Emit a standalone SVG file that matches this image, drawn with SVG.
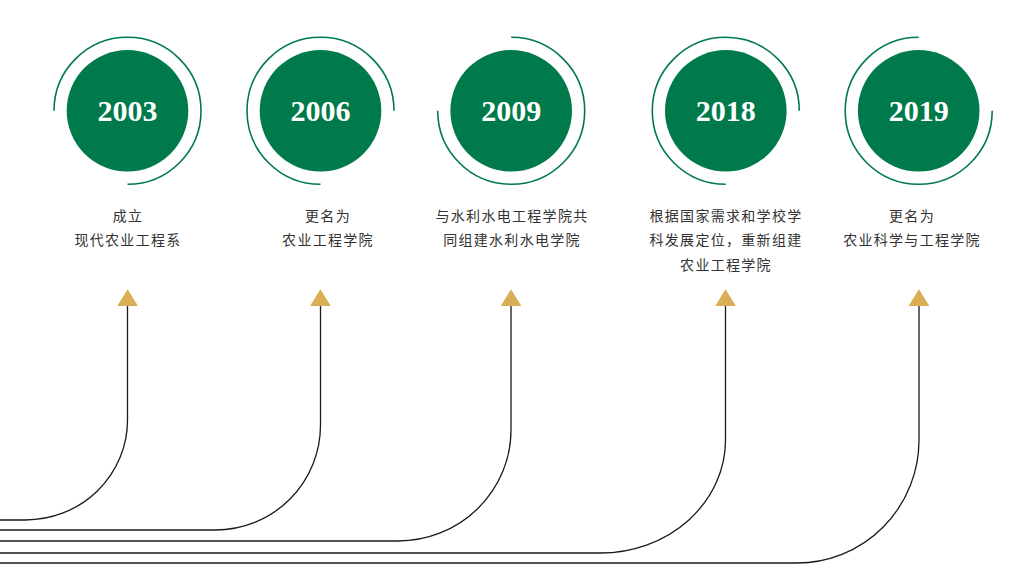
<svg xmlns="http://www.w3.org/2000/svg" width="1021" height="581" viewBox="0 0 1021 581">
<style>
.disc{fill:#017a4b}
.ring{fill:none;stroke:#017a4b;stroke-width:1.6}
.year{font-family:"Liberation Serif","Times New Roman",serif;font-weight:bold;font-size:30px;fill:#ffffff;text-anchor:middle}
.lbl{font-family:"Noto Sans CJK SC","Noto Sans",sans-serif;font-size:14px;fill:#333333;text-anchor:middle;letter-spacing:1.3px}
.tri{fill:#d9ae55}
.conn{fill:none;stroke:#1a1a1a;stroke-width:1.3}
</style>
<rect width="1021" height="581" fill="#ffffff"/>
<g id="connectors">
<path class="conn" d="M127.5,306 V420 A102,100 0 0 1 25.5,520 H0"/>
<path class="conn" d="M320.5,306 V425 A105,105 0 0 1 215.5,530 H0"/>
<path class="conn" d="M511,306 V430 A113,111 0 0 1 398,541 H0"/>
<path class="conn" d="M725.5,306 V440 A125,113 0 0 1 600.5,553 H0"/>
<path class="conn" d="M919,306 V440 A122,123 0 0 1 797,563 H0"/>
</g>
<g id="node-2003">
<circle class="disc" cx="127.5" cy="110.8" r="60.8"/>
<path class="ring" d="M54,110.8 A73.5,73.5 0 1 1 127.5,184.3"/>
<text class="year" x="127.5" y="121">2003</text>
<text class="lbl" x="128" y="220.5">成立</text>
<text class="lbl" x="128" y="245">现代农业工程系</text>
<polygon class="tri" points="117.3,306 138,306 127.6,289.3"/>
</g>
<g id="node-2006">
<circle class="disc" cx="320.5" cy="110.8" r="60.8"/>
<path class="ring" d="M394,110.8 A73.5,73.5 0 1 0 320.5,184.3"/>
<text class="year" x="320.5" y="121">2006</text>
<text class="lbl" x="328" y="220.5">更名为</text>
<text class="lbl" x="328" y="245">农业工程学院</text>
<polygon class="tri" points="310,306 330.8,306 320.4,289.3"/>
</g>
<g id="node-2009">
<circle class="disc" cx="511.2" cy="110.8" r="60.8"/>
<path class="ring" d="M511.2,37.3 A73.5,73.5 0 1 1 437.7,110.8"/>
<text class="year" x="511.2" y="121">2009</text>
<text class="lbl" x="512" y="220.5">与水利水电工程学院共</text>
<text class="lbl" x="512" y="245">同组建水利水电学院</text>
<polygon class="tri" points="500.7,306 521.4,306 511,289.3"/>
</g>
<g id="node-2018">
<circle class="disc" cx="725.8" cy="110.8" r="60.8"/>
<path class="ring" d="M799.3,110.8 A73.5,73.5 0 1 0 725.8,184.3"/>
<text class="year" x="725.8" y="121">2018</text>
<text class="lbl" x="726" y="220.5">根据国家需求和学校学</text>
<text class="lbl" x="726" y="245">科发展定位，重新组建</text>
<text class="lbl" x="726" y="270">农业工程学院</text>
<polygon class="tri" points="715.2,306 735.9,306 725.5,289.3"/>
</g>
<g id="node-2019">
<circle class="disc" cx="918.7" cy="110.8" r="60.8"/>
<path class="ring" d="M918.7,37.3 A73.5,73.5 0 1 0 992.2,110.8"/>
<text class="year" x="918.7" y="121">2019</text>
<text class="lbl" x="912" y="220.5">更名为</text>
<text class="lbl" x="912" y="245">农业科学与工程学院</text>
<polygon class="tri" points="908.6,306 929.3,306 918.9,289.3"/>
</g>
</svg>
